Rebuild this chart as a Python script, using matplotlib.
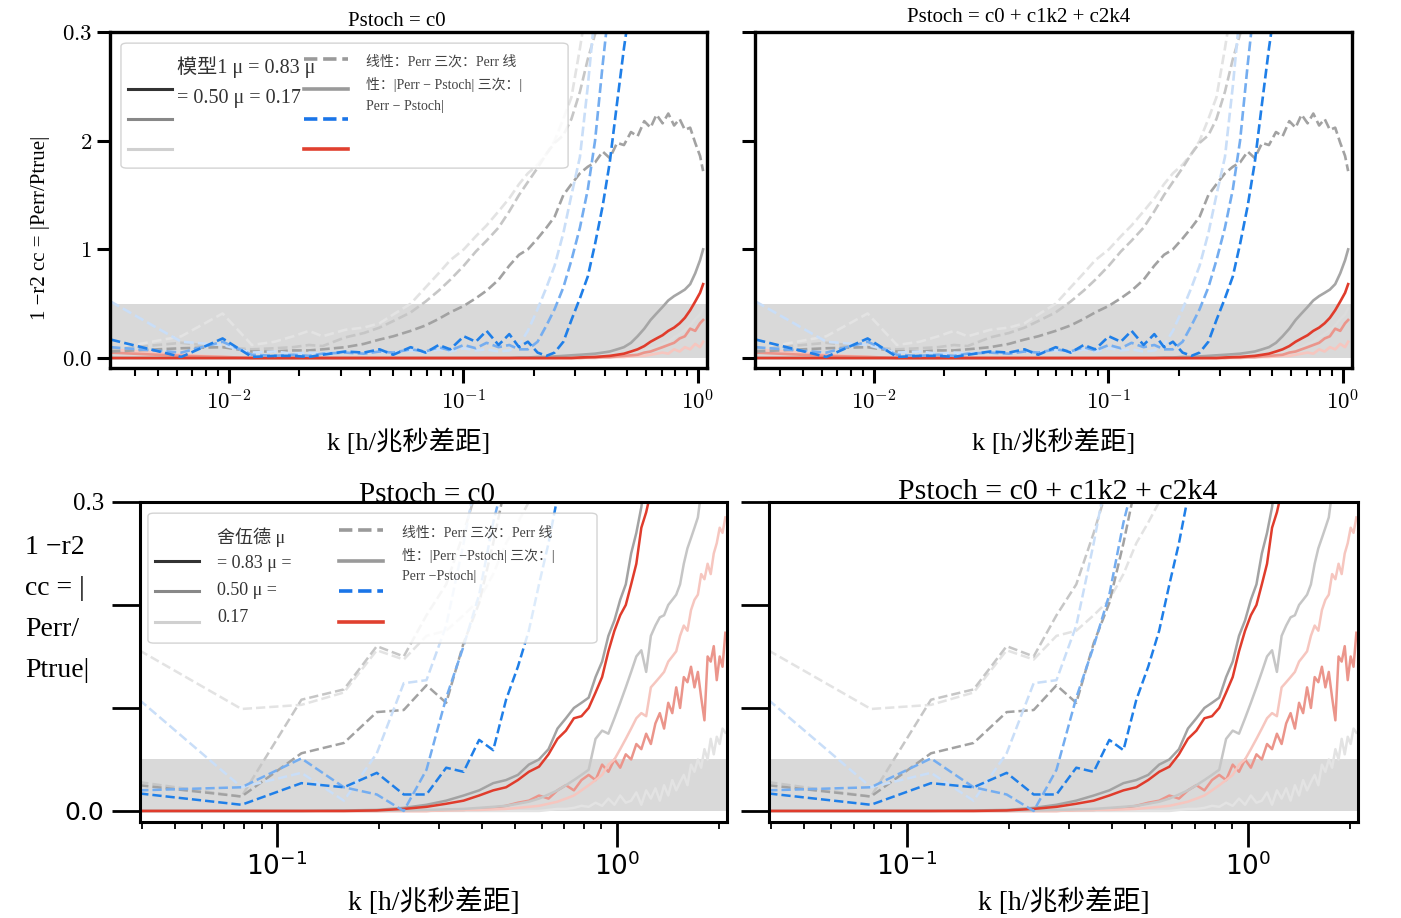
import numpy as np
import matplotlib.pyplot as plt
from matplotlib.lines import Line2D
from matplotlib.patches import FancyBboxPatch
from matplotlib.ticker import LogLocator, NullFormatter

plt.rcParams['font.family'] = ['Liberation Serif', 'Noto Sans CJK SC', 'DejaVu Sans']
plt.rcParams['mathtext.fontset'] = 'cm'

# ---------------- data : top row (fine k grid, k = n * kf) ----------------
kf_top = 0.00314
n_top = [1, 2, 3, 4, 5, 6, 7, 8, 10, 12, 14, 16, 19, 22, 25, 28, 32, 36, 40, 45,
         50, 55, 60, 66, 72, 78, 85, 92, 100, 108, 116, 125, 134, 144, 154, 165,
         176, 188, 200, 212, 225, 238, 252, 266, 280, 295, 310, 325, 335]

top_dash_gray_light = [0.08, 0.20, 0.41, 0.12, 0.15, 0.20, 0.25, 0.20, 0.26, 0.28, 0.32, 0.40,
                       0.50, 0.65, 0.78, 0.90, 1.00, 1.12, 1.22, 1.35, 1.47, 1.60, 1.70, 1.78,
                       1.88, 2.00, 2.20, 2.40, 2.85, 3.30, 3.60, 3.90, 4.20]
top_dash_gray_mid = [0.08, 0.14, 0.10, 0.08, 0.09, 0.10, 0.12, 0.11, 0.19, 0.23, 0.28, 0.34,
                     0.42, 0.52, 0.62, 0.72, 0.85, 0.98, 1.08, 1.20, 1.35, 1.50, 1.62, 1.75,
                     1.88, 1.98, 2.05, 2.20, 2.45, 2.75, 2.98, 3.30, 3.60]
top_dash_gray_dark = [0.06, 0.09, 0.10, 0.06, 0.06, 0.07, 0.07, 0.08, 0.10, 0.13, 0.17, 0.20,
                      0.25, 0.30, 0.36, 0.42, 0.48, 0.55, 0.62, 0.72, 0.85, 0.95, 1.00, 1.10,
                      1.20, 1.30, 1.50, 1.60, 1.70, 1.76, 1.80, 1.90, 1.84, 1.98, 1.96, 2.08,
                      2.04, 2.18, 2.12, 2.24, 2.16, 2.25, 2.14, 2.20, 2.10, 2.12, 1.98, 1.86, 1.72]
top_dash_blue_light = [0.52, 0.15, 0.12, 0.05, 0.06, 0.04, 0.05, 0.04, 0.06, 0.05, 0.06, 0.05,
                       0.07, 0.05, 0.08, 0.06, 0.09, 0.07, 0.08, 0.06, 0.07, 0.12, 0.25, 0.45,
                       0.65, 0.85, 1.15, 1.50, 1.85, 2.50, 3.20, 3.90]
top_dash_blue_mid = [0.10, 0.05, 0.15, 0.03, 0.02, 0.03, 0.02, 0.04, 0.05, 0.04, 0.06, 0.05,
                     0.08, 0.06, 0.10, 0.07, 0.12, 0.09, 0.14, 0.10, 0.12, 0.08, 0.08, 0.15,
                     0.30, 0.45, 0.65, 0.90, 1.20, 1.55, 2.00, 2.70, 3.30, 3.90]
top_dash_blue_dark = [0.17, 0.01, 0.18, 0.01, 0.02, 0.02, 0.01, 0.03, 0.06, 0.05, 0.08, 0.03,
                      0.10, 0.05, 0.12, 0.08, 0.20, 0.15, 0.25, 0.12, 0.22, 0.10, 0.15, 0.05,
                      0.02, 0.05, 0.15, 0.35, 0.55, 0.75, 1.05, 1.40, 1.80, 2.35, 2.85, 3.30, 3.80]
top_solid_gray_dark = [0.0, 0.0, 0.0, 0.0, 0.0, 0.0, 0.0, 0.0, 0.0, 0.0, 0.0, 0.0,
                       0.0, 0.0, 0.0, 0.0, 0.0, 0.0, 0.0, 0.0, 0.0, 0.005, 0.005, 0.01,
                       0.01, 0.015, 0.02, 0.025, 0.03, 0.035, 0.04, 0.05, 0.06, 0.08, 0.10, 0.14,
                       0.20, 0.27, 0.35, 0.41, 0.47, 0.53, 0.57, 0.60, 0.63, 0.68, 0.78, 0.90, 1.00]
top_solid_gray_light = [0.0, 0.0, 0.0, 0.0, 0.0, 0.0, 0.0, 0.0, 0.0, 0.0, 0.0, 0.0,
                        0.0, 0.0, 0.0, 0.0, 0.0, 0.0, 0.0, 0.0, 0.0, 0.0, 0.0, 0.0,
                        0.0, 0.0, 0.005, 0.005, 0.01, 0.01, 0.015, 0.02, 0.02, 0.03, 0.03, 0.04,
                        0.05, 0.07, 0.09, 0.10, 0.13, 0.15, 0.19, 0.22, 0.26, 0.30, 0.36, 0.40, 0.46]
top_solid_red = [0.0, 0.0, 0.0, 0.0, 0.0, 0.0, 0.0, 0.0, 0.0, 0.0, 0.0, 0.0,
                 0.0, 0.0, 0.0, 0.0, 0.0, 0.0, 0.0, 0.0, 0.0, 0.0, 0.0, 0.0,
                 0.0, 0.0, 0.0, 0.0, 0.005, 0.008, 0.01, 0.015, 0.02, 0.03, 0.04, 0.06,
                 0.08, 0.11, 0.15, 0.18, 0.21, 0.25, 0.28, 0.32, 0.37, 0.44, 0.52, 0.60, 0.68]
top_solid_red_mid = [0.05, 0.02, 0.01, 0.0, 0.0, 0.0, 0.0, 0.0, 0.0, 0.0, 0.0, 0.0,
                     0.0, 0.0, 0.0, 0.0, 0.0, 0.0, 0.0, 0.0, 0.0, 0.0, 0.0, 0.0,
                     0.0, 0.0, 0.0, 0.0, 0.0, 0.005, 0.005, 0.01, 0.01, 0.015, 0.02, 0.025,
                     0.03, 0.05, 0.06, 0.08, 0.10, 0.12, 0.14, 0.18, 0.20, 0.27, 0.25, 0.32, 0.35]
top_solid_red_light = [0.08, 0.03, 0.01, 0.0, 0.0, 0.0, 0.0, 0.0, 0.0, 0.0, 0.0, 0.0,
                       0.0, 0.0, 0.0, 0.0, 0.0, 0.0, 0.0, 0.0, 0.0, 0.0, 0.0, 0.0,
                       0.0, 0.0, 0.0, 0.0, 0.0, 0.0, 0.0, 0.005, 0.005, 0.01, 0.01, 0.015,
                       0.02, 0.02, 0.03, 0.04, 0.05, 0.04, 0.08, 0.06, 0.10, 0.08, 0.13, 0.10, 0.15]

# ---------------- data : bottom row (coarse k grid, k = n * kb) ----------------
kb_bot = 0.0393
n_bot = list(range(1, 54))

bot_dash_gray_light = [1.56, 0.99, 1.03, 1.15, 1.56, 1.47, 1.70, 1.75, 1.90, 2.05, 2.30, 2.60,
                       2.80, 3.00, 3.30, 3.60]
bot_dash_gray_mid = [0.28, 0.14, 1.08, 1.18, 1.60, 1.50, 1.90, 2.20, 2.70, 3.20, 3.60]
bot_dash_gray_dark = [0.25, 0.14, 0.56, 0.66, 0.96, 0.98, 1.22, 1.05, 1.63, 2.02, 2.60, 3.20, 3.60]
bot_dash_blue_light = [1.08, 0.23, 0.37, 0.10, 0.56, 1.24, 1.27, 1.80, 2.60, 3.40]
bot_dash_blue_mid = [0.20, 0.23, 0.51, 0.23, 0.16, 0.00, 0.40, 1.10, 1.60, 2.10, 2.80, 3.30]
bot_dash_blue_dark = [0.17, 0.06, 0.27, 0.23, 0.37, 0.16, 0.16, 0.42, 0.38, 0.69, 0.59, 1.08,
                      1.40, 1.75, 2.20, 2.60, 3.05, 3.50]
bot_solid_gray_dark = [0.0, 0.0, 0.0, 0.005, 0.01, 0.03, 0.06, 0.10, 0.15, 0.20, 0.27, 0.30,
                       0.35, 0.45, 0.50, 0.60, 0.80, 0.90, 1.00, 1.05, 1.10, 1.30, 1.45, 1.70,
                       1.85, 2.05, 2.20, 2.50, 2.70, 2.95, 3.30, 3.60]
bot_solid_red = [0.0, 0.0, 0.0, 0.0, 0.005, 0.02, 0.04, 0.07, 0.10, 0.15, 0.20, 0.23,
                 0.30, 0.38, 0.43, 0.55, 0.70, 0.78, 0.90, 0.92, 1.00, 1.15, 1.30, 1.55,
                 1.75, 1.90, 2.00, 2.20, 2.40, 2.75, 2.90, 3.10, 3.50]
bot_solid_gray_mid = [0.0, 0.0, 0.0, 0.0, 0.0, 0.005, 0.01, 0.015, 0.02, 0.03, 0.04, 0.05,
                      0.07, 0.09, 0.12, 0.16, 0.20, 0.25, 0.30, 0.35, 0.40, 0.70, 0.78, 0.75,
                      0.90, 1.05, 1.20, 1.35, 1.50, 1.56, 1.35, 1.70, 1.80, 1.88, 1.90, 2.00,
                      2.05, 2.10, 2.20, 2.40, 2.55, 2.65, 2.75, 2.85, 3.10, 3.40]
bot_solid_red_light = [0.0, 0.0, 0.0, 0.0, 0.0, 0.0, 0.0, 0.005, 0.01, 0.01, 0.015, 0.02,
                       0.03, 0.04, 0.05, 0.07, 0.09, 0.12, 0.15, 0.20, 0.25, 0.30, 0.35, 0.45,
                       0.50, 0.60, 0.70, 0.80, 0.90, 0.95, 0.92, 1.20, 1.25, 1.30, 1.35, 1.45,
                       1.50, 1.55, 1.70, 1.80, 1.75, 1.95, 2.05, 2.10, 2.30, 2.25, 2.40, 2.30,
                       2.50, 2.60, 2.75, 2.70, 2.85]
bot_solid_red_mid = [0.0, 0.0, 0.0, 0.0, 0.0, 0.0, 0.0, 0.01, 0.01, 0.02, 0.03, 0.05,
                     0.08, 0.10, 0.15, 0.12, 0.20, 0.25, 0.20, 0.30, 0.35, 0.30, 0.45, 0.38,
                     0.50, 0.42, 0.55, 0.50, 0.65, 0.60, 0.75, 0.65, 0.85, 0.95, 0.80, 1.05,
                     0.95, 1.20, 1.00, 1.30, 1.25, 1.40, 1.20, 1.35, 1.10, 0.88, 1.50, 1.45,
                     1.60, 1.27, 1.50, 1.40, 1.73]
bot_solid_gray_light = [0.0, 0.0, 0.0, 0.0, 0.0, 0.0, 0.0, 0.0, 0.0, 0.0, 0.0, 0.0,
                        0.0, 0.0, 0.0, 0.01, 0.02, 0.02, 0.03, 0.05, 0.04, 0.08, 0.05, 0.12,
                        0.06, 0.15, 0.08, 0.10, 0.18, 0.06, 0.20, 0.12, 0.22, 0.10, 0.25, 0.15,
                        0.30, 0.20, 0.28, 0.35, 0.25, 0.45, 0.38, 0.50, 0.42, 0.60, 0.50, 0.70,
                        0.55, 0.72, 0.65, 0.80, 0.76]

# ---------------- styles ----------------
C_GD, C_GM, C_GL = '#a2a2a2', '#c6c6c6', '#e3e3e3'
C_BD, C_BM, C_BL = '#1f7fe8', '#74adf0', '#c9def8'
C_R, C_RM, C_RL = '#e03c2c', '#eb958b', '#f6c6bf'

top_series = [
    (top_solid_gray_light, '#dcdcdc', '-'),
    (top_solid_red_light, C_RL, '-'),
    (top_solid_red_mid, C_RM, '-'),
    (top_solid_gray_dark, '#a6a6a6', '-'),
    (top_solid_red, C_R, '-'),
    (top_dash_gray_light, C_GL, '--'),
    (top_dash_gray_mid, C_GM, '--'),
    (top_dash_gray_dark, C_GD, '--'),
    (top_dash_blue_light, C_BL, '--'),
    (top_dash_blue_mid, C_BM, '--'),
    (top_dash_blue_dark, C_BD, '--'),
]
bot_series = [
    (bot_solid_gray_light, C_GL, '-'),
    (bot_solid_red_mid, C_RM, '-'),
    (bot_solid_red_light, C_RL, '-'),
    (bot_solid_gray_mid, C_GM, '-'),
    (bot_solid_gray_dark, '#a3a3a3', '-'),
    (bot_solid_red, C_R, '-'),
    (bot_dash_gray_light, C_GL, '--'),
    (bot_dash_gray_mid, C_GM, '--'),
    (bot_dash_gray_dark, C_GD, '--'),
    (bot_dash_blue_light, C_BL, '--'),
    (bot_dash_blue_mid, C_BM, '--'),
    (bot_dash_blue_dark, C_BD, '--'),
]

k_top = kf_top * np.array(n_top)
k_bot = kb_bot * np.array(n_bot)


def draw_lines(ax, k, series, lw):
    ax.axhspan(0, 0.5, color='#d9d9d9', lw=0, zorder=0)
    for vals, col, ls in series:
        ax.plot(k[:len(vals)], vals, color=col, ls=ls, lw=lw, zorder=2)


def style_top(ax, show_ylabels):
    ax.set_xscale('log')
    ax.set_xlim(0.00312, 1.092)
    ax.set_ylim(-0.092, 3.0)
    ax.set_xticks([0.01, 0.1, 1])
    ax.set_xticklabels([r'$10^{-2}$', r'$10^{-1}$', r'$10^{0}$'])
    ax.xaxis.set_minor_locator(LogLocator(base=10, subs=np.arange(2, 10)))
    ax.xaxis.set_minor_formatter(NullFormatter())
    ax.set_yticks([0, 1, 2, 3])
    if show_ylabels:
        ax.set_yticklabels([r'$0.0$', r'$1$', r'$2$', r'$0.3$'])
    else:
        ax.set_yticklabels([])
    ax.tick_params(axis='both', which='major', width=2.2, labelsize=16.5)
    ax.tick_params(axis='x', which='major', length=11, pad=5)
    ax.tick_params(axis='y', which='major', length=9.5)
    ax.tick_params(axis='x', which='minor', length=5.5, width=1.5)
    for s in ax.spines.values():
        s.set_linewidth(2.4)
    ax.set_xlabel('k [h/兆秒差距]', fontsize=19, labelpad=10)


def style_bot(ax, show_ylabels):
    ax.set_xscale('log')
    ax.set_xlim(0.0395, 2.106)
    ax.set_ylim(-0.107, 3.0)
    ax.set_xticks([0.1, 1])
    ax.set_xticklabels([r'$\mathdefault{10^{-1}}$', r'$\mathdefault{10^{0}}$'])
    for t in ax.get_xticklabels():
        t.set_fontfamily('DejaVu Sans')
        t.set_math_fontfamily('dejavusans')
        t.set_fontsize(19)
    ax.xaxis.set_minor_locator(LogLocator(base=10, subs=np.arange(2, 10)))
    ax.xaxis.set_minor_formatter(NullFormatter())
    ax.set_yticks([0, 1, 2, 3])
    if show_ylabels:
        ax.set_yticklabels(['0.0', '', '', '0.3'])
        lbl = ax.get_yticklabels()
        lbl[0].set_fontfamily('DejaVu Sans')
        lbl[0].set_fontsize(18)
        lbl[3].set_fontsize(18)
    else:
        ax.set_yticklabels([])
    ax.tick_params(axis='x', which='major', length=18, width=2.0, pad=4)
    ax.tick_params(axis='y', which='major', length=20, width=2.0, pad=6)
    ax.tick_params(axis='x', which='minor', length=5, width=1.3)
    for s in ax.spines.values():
        s.set_linewidth(2.2)
    ax.set_xlabel('k [h/兆秒差距]', fontsize=20, labelpad=5)


def add_legend(ax, box, key_anchor, colspace, rowspace, texts_left, texts_right, fs_left):
    frame = FancyBboxPatch((box[0], box[1]), box[2], box[3], transform=ax.transAxes,
                           boxstyle='round,pad=0,rounding_size=0.01', fc='white',
                           ec='#cccccc', lw=1.0, alpha=0.85, zorder=4)
    ax.add_patch(frame)
    handles = [Line2D([], [], color='none'),
               Line2D([], [], color='#333333', lw=2.2),
               Line2D([], [], color='#888888', lw=2.2),
               Line2D([], [], color='#d0d0d0', lw=2.2),
               Line2D([], [], color='#9a9a9a', lw=2.6, ls='--'),
               Line2D([], [], color='#9a9a9a', lw=2.6),
               Line2D([], [], color='#1a75e8', lw=2.6, ls='--'),
               Line2D([], [], color='#e0402f', lw=2.6)]
    leg = ax.legend(handles, [''] * 8, ncol=2, loc='upper left', bbox_to_anchor=key_anchor,
                    frameon=False, fontsize=10, handlelength=3.17, handletextpad=0,
                    columnspacing=colspace, labelspacing=rowspace, borderpad=0,
                    borderaxespad=0)
    leg.set_zorder(5)
    for x, y, s in texts_left:
        ax.text(x, y, s, transform=ax.transAxes, fontsize=fs_left, color='#333333',
                va='center', ha='left', zorder=6)
    for x, y, s in texts_right:
        ax.text(x, y, s, transform=ax.transAxes, fontsize=10, color='#444444',
                va='center', ha='left', zorder=6)


fig = plt.figure(figsize=(14.01, 9.18), dpi=100)
ax_tl = fig.add_axes([0.0785, 0.5991, 0.4261, 0.366])
ax_tr = fig.add_axes([0.5389, 0.5991, 0.4261, 0.366])
ax_bl = fig.add_axes([0.0999, 0.1046, 0.4190, 0.3486])
ax_br = fig.add_axes([0.5489, 0.1046, 0.4204, 0.3486])

for ax, show in [(ax_tl, True), (ax_tr, False)]:
    draw_lines(ax, k_top, top_series, 1.9)
    style_top(ax, show)
for ax, show in [(ax_bl, True), (ax_br, False)]:
    draw_lines(ax, k_bot, bot_series, 1.8)
    style_bot(ax, show)

ax_tl.set_title('Pstoch = c0', fontsize=15, pad=4, x=0.481)
ax_tr.set_title('Pstoch = c0 + c1k2 + c2k4', fontsize=15, pad=7, x=0.442)
ax_bl.text(0.489, 1.022, 'Pstoch = c0', transform=ax_bl.transAxes, fontsize=21,
           ha='center', va='center')
ax_br.text(0.49, 1.032, 'Pstoch = c0 + c1k2 + c2k4', transform=ax_br.transAxes, fontsize=21.5,
           ha='center', va='center')

ax_tl.set_ylabel('1 −r2 cc = |Perr/Ptrue|', fontsize=15)
ax_tl.yaxis.set_label_coords(-0.10, 0.417)
ax_bl.set_ylabel('1 −r2\ncc = |\nPerr/\nPtrue|', fontsize=20, rotation=0,
                 ha='left', va='top', linespacing=1.85)
ax_bl.yaxis.set_label_coords(-0.196, 0.898)

add_legend(ax_tl, (0.0184, 0.595, 0.749, 0.372), (0.0302, 0.9345), 9.5, 1.22,
           [(0.1122, 0.8958, '模型1 μ = 0.83 μ'), (0.1122, 0.8036, '= 0.50 μ = 0.17')],
           [(0.4288, 0.9107, '线性：Perr 三次：Perr 线'),
            (0.4288, 0.8452, '性：|Perr − Pstoch| 三次：|'),
            (0.4288, 0.7798, 'Perr − Pstoch|')], 14.5)
add_legend(ax_bl, (0.0136, 0.559, 0.765, 0.406), (0.0256, 0.928), 10.1, 1.26,
           [(0.1312, 0.8906, '舍伍德 μ'), (0.1312, 0.8063, '= 0.83 μ ='),
            (0.1312, 0.7219, '0.50 μ ='), (0.1312, 0.6375, '0.17')],
           [(0.4463, 0.9031, '线性：Perr 三次：Perr 线'),
            (0.4463, 0.8313, '性：|Perr −Pstoch| 三次：|'),
            (0.4463, 0.7656, 'Perr −Pstoch|')], 13)

fig.savefig('out.png', dpi=100)
